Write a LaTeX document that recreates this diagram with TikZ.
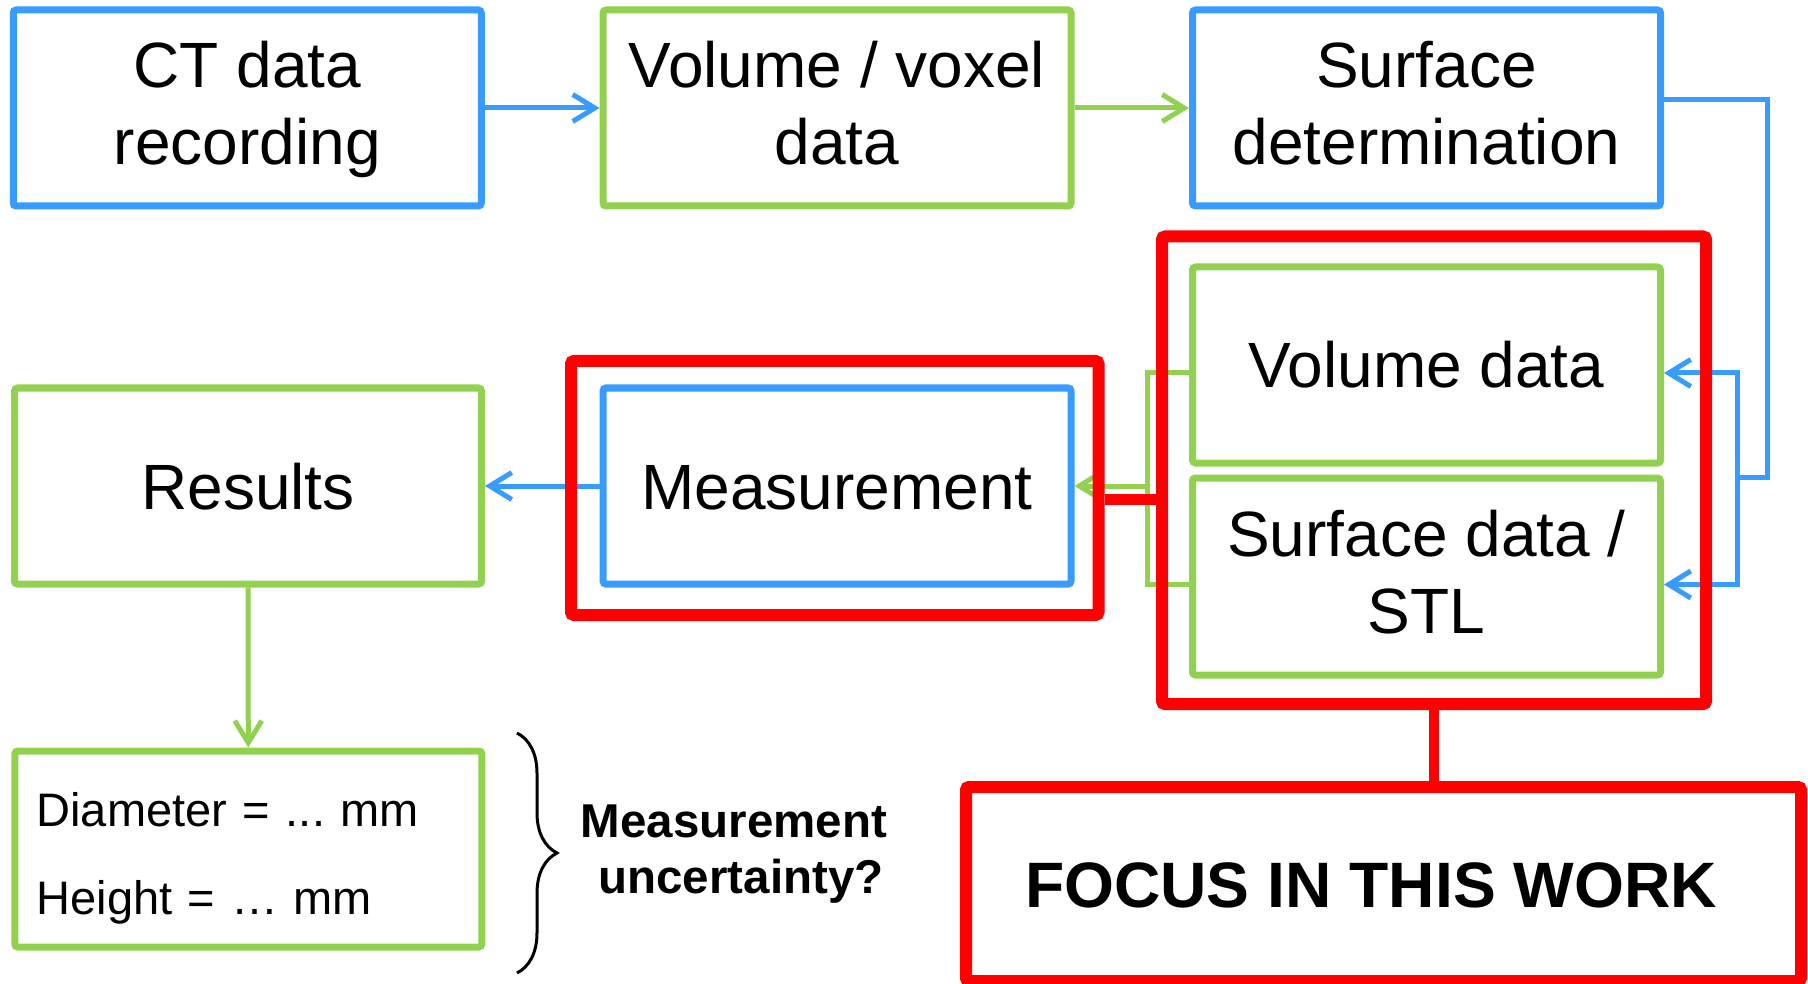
\documentclass[tikz,border=0pt]{standalone}
\usepackage{fontspec}
\setmainfont{Liberation Sans}
\usetikzlibrary{arrows.meta,decorations.pathreplacing}
\definecolor{cblue}{RGB}{55,155,255}
\definecolor{cgreen}{RGB}{146,208,80}
\definecolor{cred}{RGB}{255,0,0}
\frenchspacing
\newcommand\bigstrut{\rule[-14pt]{0pt}{64pt}}
\newcommand\smstrut{\rule[-10pt]{0pt}{63pt}}
\newcommand\uncstrut{\rule[-10pt]{0pt}{44pt}}
\tikzset{
  box/.style={draw, line width=7pt, rounded corners=3pt, inner sep=0pt,
    minimum width=468pt, minimum height=196pt, align=center,
    font=\fontsize{64}{77}\selectfont},
  bluebox/.style={box, draw=cblue},
  greenbox/.style={box, draw=cgreen},
  redbox/.style={draw=cred, line width=12pt, rounded corners=3pt, inner sep=0pt},
  oneline/.style={text height=46pt, text depth=0pt},
  arr/.style={-{Straight Barb[length=22pt,width=27pt]}},
  bl/.style={draw=cblue, line width=5pt},
  gl/.style={draw=cgreen, line width=5pt},
  rl/.style={draw=cred, line width=11pt}
}
\begin{document}
\begin{tikzpicture}[x=1pt,y=-1pt]
\useasboundingbox (0,0) rectangle (1808,984);
% top row
\node[bluebox] (ct) at (247.25,108) {\bigstrut CT data\\\bigstrut recording};
\node[greenbox] (vox) at (837,108) {\bigstrut Volume / voxel\\\bigstrut data};
\node[bluebox] (surf) at (1426.5,108) {\bigstrut Surface\\\bigstrut determination};
% right group
\node[greenbox, oneline] (vol) at (1426.5,365) {Volume data};
\node[greenbox, minimum height=197pt] (stl) at (1426.5,576.5) {\bigstrut Surface data /\\\bigstrut STL};
% middle row
\node[bluebox, oneline] (meas) at (837,486) {Measurement};
\node[greenbox, oneline, minimum width=467pt] (res) at (248,486) {Results};
% result values
\node[greenbox, minimum width=467pt, text width=423.6pt, align=left,
  font=\fontsize{47}{88}\selectfont] (dia) at (248.3,849)
  {\smstrut Diameter = ... mm\\\smstrut Height = … mm};
% connectors (blue / green)
\draw[bl, arr] (ct.east) -- (vox.west);
\draw[gl, arr] (vox.east) -- (surf.west);
\coordinate (bj) at (1737,477);
\coordinate (gj) at (1147,486);
\draw[bl] ([yshift=8pt]surf.east) -| (1767,477) -- (bj);
\draw[bl, arr] (bj) |- ([yshift=-8pt]vol.east);
\draw[bl, arr] (bj) |- ([yshift=-8pt]stl.east);
\draw[gl] ([yshift=-8pt]vol.west) -| (gj);
\draw[gl] ([yshift=-8pt]stl.west) -| (gj);
\draw[gl, arr] (gj) -- (meas.east);
\draw[bl, arr] (meas.west) -- (res.east);
\draw[gl, arr] (res.south) -- (dia.north);
% red frames
\node[redbox, minimum width=544pt, minimum height=467.5pt] (big) at (1434,470.25) {};
\node[redbox, minimum width=527.5pt, minimum height=254pt] (redm) at (834.75,488) {};
\node[redbox, minimum width=835pt, minimum height=194pt, oneline,
  font=\fontsize{64.2}{77}\selectfont\bfseries] (focus) at (1383.5,884) {FOCUS IN THIS WORK\kern25pt};
\draw[rl] ([yshift=-11pt]redm.east) -- ([yshift=-11pt]redm.east -| big.west);
\draw[line width=10pt, draw=cred] (big.south) -- (big.south |- focus.north);
% brace and question
\draw[line width=3pt, decorate, decoration={brace, amplitude=40pt}] (517,733) -- (517,973);
\node[align=center, font=\fontsize{47.5}{56}\selectfont\bfseries] (unc) at (734,853.7)
  {\uncstrut Measurement\\\uncstrut\kern14pt uncertainty?};
\end{tikzpicture}
\end{document}
